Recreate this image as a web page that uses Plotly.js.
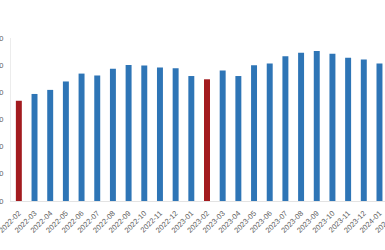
<!DOCTYPE html>
<html>
<head>
<meta charset="utf-8">
<script src="https://cdn.plot.ly/plotly-3.0.1.min.js"></script>
<style>
html,body{margin:0;padding:0;overflow:hidden;background:#fff;width:385px;height:250px;}
#chart{position:absolute;left:-40px;top:0;width:455px;height:250px;}
</style>
</head>
<body>
<div id="chart"></div>
<script>
const months = ["2022-02","2022-03","2022-04","2022-05","2022-06","2022-07","2022-08","2022-09","2022-10","2022-11","2022-12","2023-01","2023-02","2023-03","2023-04","2023-05","2023-06","2023-07","2023-08","2023-09","2023-10","2023-11","2023-12","2024-01","2024-02"];
const values = [36.9,39.4,40.9,44.0,46.9,46.2,48.7,50.1,49.9,49.1,48.9,46.0,44.8,48.0,46.0,50.0,50.6,53.3,54.6,55.2,54.2,52.7,52.1,50.6,50.0];
const highlightMonths = ["2022-02","2023-02"];
const yTicks = [0,10,20,30,40,50,60];

const colors = months.map(m => highlightMonths.includes(m) ? "#a31b1f" : "#2e75b6");

Plotly.newPlot("chart", [{
  type: "bar",
  x: months,
  y: values,
  marker: {color: colors},
  hoverinfo: "x+y"
}], {
  width: 455,
  height: 250,
  margin: {l: 51, r: 12, t: 38, b: 49},
  bargap: 0.62,
  showlegend: false,
  paper_bgcolor: "#fff",
  plot_bgcolor: "#fff",
  font: {family: "Liberation Sans, Arial, sans-serif", size: 7.5, color: "#606060"},
  xaxis: {
    type: "category",
    tickangle: -45,
    showline: true,
    linecolor: "#e3e3e3",
    linewidth: 1,
    showgrid: false,
    ticks: "",
    ticklabelstandoff: 4,
    tickfont: {size: 7.5, color: "#606060"}
  },
  yaxis: {
    range: [0, 60],
    tickvals: yTicks,
    showline: true,
    linecolor: "#ececec",
    linewidth: 1,
    showgrid: false,
    zeroline: false,
    ticks: "",
    ticklabelstandoff: 5,
    tickfont: {size: 7.5, color: "#606060"}
  }
}, {staticPlot: true, displayModeBar: false});
</script>
</body>
</html>
